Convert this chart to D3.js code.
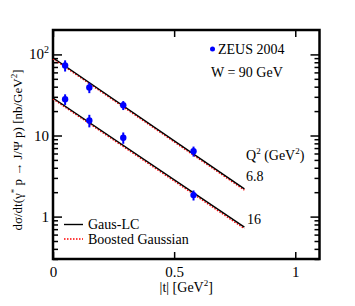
<!DOCTYPE html>
<html>
<head>
<meta charset="utf-8">
<script src="https://cdn.jsdelivr.net/npm/d3@7"></script>
<style>
  body { margin: 0; background: #fff; }
  text { font-family: "Liberation Serif", "DejaVu Serif", serif; fill: #000; }
</style>
</head>
<body>
<svg id="chart" width="355" height="306"></svg>
<script>
// ZEUS 2004 data points, W = 90 GeV
var tData = [0.05, 0.15, 0.29, 0.58];
var q68Values = [73, 39, 23.6, 6.4];
var q68Errors = [11.5, 5.7, 3.0, 0.9];
var q16Values = [28, 15.3, 9.4, 1.84];
var q16Errors = [4.2, 2.7, 1.5, 0.26];

// model curves (exponential in |t|, straight on the log scale)
var tCurve = [0, 0.79];
var gausLC68 = [91, 2.2];
var boosted68 = [88.5, 2.12];
var gausLC16 = [29, 0.74];
var boosted16 = [28.2, 0.71];

var xTicks = [0, 0.5, 1];
var yTicks = [1, 10, 100];

var svg = d3.select("#chart"),
  margin = {left: 53, right: 35.5, top: 30, bottom: 47},
  width = +svg.attr("width"),
  height = +svg.attr("height");

var x = d3.scaleLinear().domain([0, 1.1]).range([margin.left, width - margin.right]);
var y = d3.scaleLog().domain([0.3, 200]).range([height - margin.bottom, margin.top]);

// minor ticks for the log axis
var yMinor = [];
[0.1, 1, 10, 100].forEach(function(dec) {
  for (var k = 2; k <= 9; k++) {
    var v = dec * k;
    if (v > 0.3 && v < 200) yMinor.push(v);
  }
});

var g = svg.append("g");

// axes with inward ticks
g.append("g").attr("transform", "translate(0," + y.range()[0] + ")")
  .call(d3.axisBottom(x).tickValues(xTicks).tickSize(-7).tickFormat(function(d) { return d === 0 ? "0" : d === 1 ? "1" : d; }).tickPadding(7));
g.append("g").attr("transform", "translate(0," + y.range()[1] + ")")
  .call(d3.axisTop(x).tickValues(xTicks).tickSize(-7).tickFormat(""));
g.append("g").attr("transform", "translate(" + x.range()[0] + ",0)")
  .call(d3.axisLeft(y).tickValues(yTicks).tickSize(-9).tickFormat("").tickPadding(6));
g.append("g").attr("transform", "translate(" + x.range()[0] + ",0)")
  .call(d3.axisLeft(y).tickValues(yMinor).tickSize(-5).tickFormat(""));
g.append("g").attr("transform", "translate(" + x.range()[1] + ",0)")
  .call(d3.axisRight(y).tickValues(yTicks).tickSize(-9).tickFormat(""));
g.append("g").attr("transform", "translate(" + x.range()[1] + ",0)")
  .call(d3.axisRight(y).tickValues(yMinor).tickSize(-5).tickFormat(""));

g.selectAll(".domain").remove();
g.selectAll(".tick line").attr("stroke", "#000").attr("stroke-width", 1.5);
g.selectAll(".tick text").style("font-size", "15px").style("font-family", "Liberation Serif, serif");

// y tick labels (10^2 with superscript)
var yLab = g.append("g");
yTicks.forEach(function(v) {
  var t = yLab.append("text")
    .attr("x", x.range()[0] - 4)
    .attr("y", y(v) + 5)
    .attr("text-anchor", "end")
    .style("font-size", "15px");
  if (v === 100) {
    t.append("tspan").text("10");
    t.append("tspan").attr("dy", -6).style("font-size", "10px").text("2");
  } else {
    t.text(v);
  }
});

// frame
svg.append("rect")
  .attr("x", x.range()[0]).attr("y", y.range()[1])
  .attr("width", x.range()[1] - x.range()[0])
  .attr("height", y.range()[0] - y.range()[1])
  .attr("fill", "none").attr("stroke", "#000").attr("stroke-width", 2.5);

// curves
var line = d3.line().x(function(d) { return x(d[0]); }).y(function(d) { return y(d[1]); });
function curve(vals, color, dash) {
  svg.append("path")
    .datum(tCurve.map(function(t, i) { return [t, vals[i]]; }))
    .attr("d", line)
    .attr("fill", "none")
    .attr("stroke", color)
    .attr("stroke-width", 1.4)
    .attr("stroke-dasharray", dash);
}
curve(boosted68, "#ff0000", "1.5,1.5");
curve(boosted16, "#ff0000", "1.5,1.5");
curve(gausLC68, "#000", null);
curve(gausLC16, "#000", null);

// data points with error bars
function points(vals, errs) {
  var pts = svg.append("g");
  tData.forEach(function(t, i) {
    pts.append("line")
      .attr("x1", x(t)).attr("x2", x(t))
      .attr("y1", y(vals[i] + errs[i])).attr("y2", y(vals[i] - errs[i]))
      .attr("stroke", "#0000ff").attr("stroke-width", 2);
    pts.append("circle")
      .attr("cx", x(t)).attr("cy", y(vals[i])).attr("r", 3.2)
      .attr("fill", "#0000ff");
  });
}
points(q68Values, q68Errors);
points(q16Values, q16Errors);

// annotations
svg.append("circle").attr("cx", 212.5).attr("cy", 49).attr("r", 2.5).attr("fill", "#0000ff");
svg.append("text").attr("x", 218).attr("y", 54).style("font-size", "14px").text("ZEUS 2004");
svg.append("text").attr("x", 211).attr("y", 77).style("font-size", "14px").text("W = 90 GeV");

var q = svg.append("text").attr("x", 246).attr("y", 160).style("font-size", "14px");
q.append("tspan").text("Q");
q.append("tspan").attr("dy", -6).style("font-size", "9px").text("2");
q.append("tspan").attr("dy", 6).text(" (GeV");
q.append("tspan").attr("dy", -6).style("font-size", "9px").text("2");
q.append("tspan").attr("dy", 6).text(")");
svg.append("text").attr("x", 246).attr("y", 181).style("font-size", "14px").text("6.8");
svg.append("text").attr("x", 247).attr("y", 224).style("font-size", "14px").text("16");

// legend
svg.append("line").attr("x1", 64).attr("x2", 83).attr("y1", 224.5).attr("y2", 224.5)
  .attr("stroke", "#000").attr("stroke-width", 1.4);
svg.append("text").attr("x", 88).attr("y", 229).style("font-size", "14px").text("Gaus-LC");
svg.append("line").attr("x1", 64).attr("x2", 83).attr("y1", 239).attr("y2", 239)
  .attr("stroke", "#ff0000").attr("stroke-width", 1.4).attr("stroke-dasharray", "1.5,1.5");
svg.append("text").attr("x", 88).attr("y", 243.5).style("font-size", "14px").text("Boosted Gaussian");

// x title
var xt = svg.append("text").attr("x", (x.range()[0] + x.range()[1]) / 2).attr("y", 292)
  .attr("text-anchor", "middle").style("font-size", "14px");
xt.append("tspan").text("|t| [GeV");
xt.append("tspan").attr("dy", -6).style("font-size", "9px").text("2");
xt.append("tspan").attr("dy", 6).text("]");

// y title
var yt = svg.append("text")
  .attr("transform", "translate(22," + 150 + ") rotate(-90)")
  .attr("text-anchor", "middle").style("font-size", "13px");
yt.append("tspan").text("dσ/dt(γ");
yt.append("tspan").attr("dy", -5).style("font-size", "9px").text("*");
yt.append("tspan").attr("dy", 5).text(" p → J/Ψ p) [nb/GeV");
yt.append("tspan").attr("dy", -5).style("font-size", "9px").text("2");
yt.append("tspan").attr("dy", 5).text("]");
</script>
</body>
</html>
